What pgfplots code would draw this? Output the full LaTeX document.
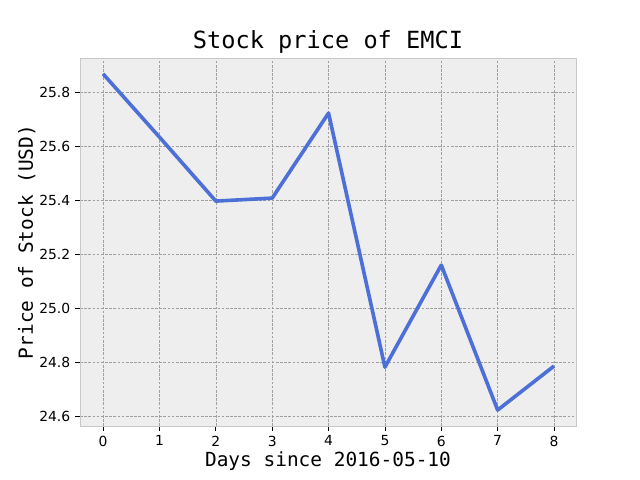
\documentclass[border=0pt]{standalone}
\usepackage{pgfplots}
\pgfplotsset{compat=1.18}
\usepackage{fontspec}
\setmainfont{DejaVu Sans}
\newfontfamily\mono{DejaVu Sans Mono}
\definecolor{bg}{HTML}{EEEEEE}
\definecolor{gr}{HTML}{B2B2B2}
\definecolor{ln}{HTML}{4D6FD8}
\begin{document}
\begin{tikzpicture}[x=0.72pt,y=0.72pt]
\path[use as bounding box, fill=white] (0,0) rectangle (640,480);
\begin{axis}[at={(80*0.72pt,54*0.72pt)}, anchor=south west,
 scale only axis, width=357.12pt, height=264.96pt,
 xmin=-0.41, xmax=8.39, ymin=24.563, ymax=25.926,
 axis background/.style={fill=bg},
 axis line style={draw=gr!70!white},
 grid=major, grid style={dash pattern=on 2pt off 1pt, gr!90!black, line width=0.4pt},
 xtick={0,...,8}, ytick={24.6,24.8,25.0,25.2,25.4,25.6,25.8},
 /pgf/number format/.cd, fixed, fixed zerofill, precision=1, assume math mode=true, /pgfplots/.cd,
 xticklabel={\pgfmathprintnumber[precision=0]{\tick}},
 tick style={black, line width=0.5pt}, tick align=outside, major tick length=3.5pt,
 xtick pos=bottom, ytick pos=left,
 ticklabel style={font=\fontsize{10}{12}\selectfont},
 title={\mono\fontsize{17}{20}\selectfont Stock price of EMCI},
 title style={yshift=-6pt},
 xlabel={\mono\fontsize{14}{16}\selectfont Days since 2016-05-10},
 ylabel={\mono\fontsize{14}{16}\selectfont Price of Stock (USD)},
 xlabel style={yshift=3pt}, ylabel style={yshift=-4pt}]
\addplot[ln, line width=2.6pt, line join=round] coordinates {
(0,25.867)(1,25.633)(2,25.396)(3,25.407)(4,25.722)(5,24.781)(6,25.159)(7,24.622)(8,24.785)};
\end{axis}
\end{tikzpicture}
\end{document}
